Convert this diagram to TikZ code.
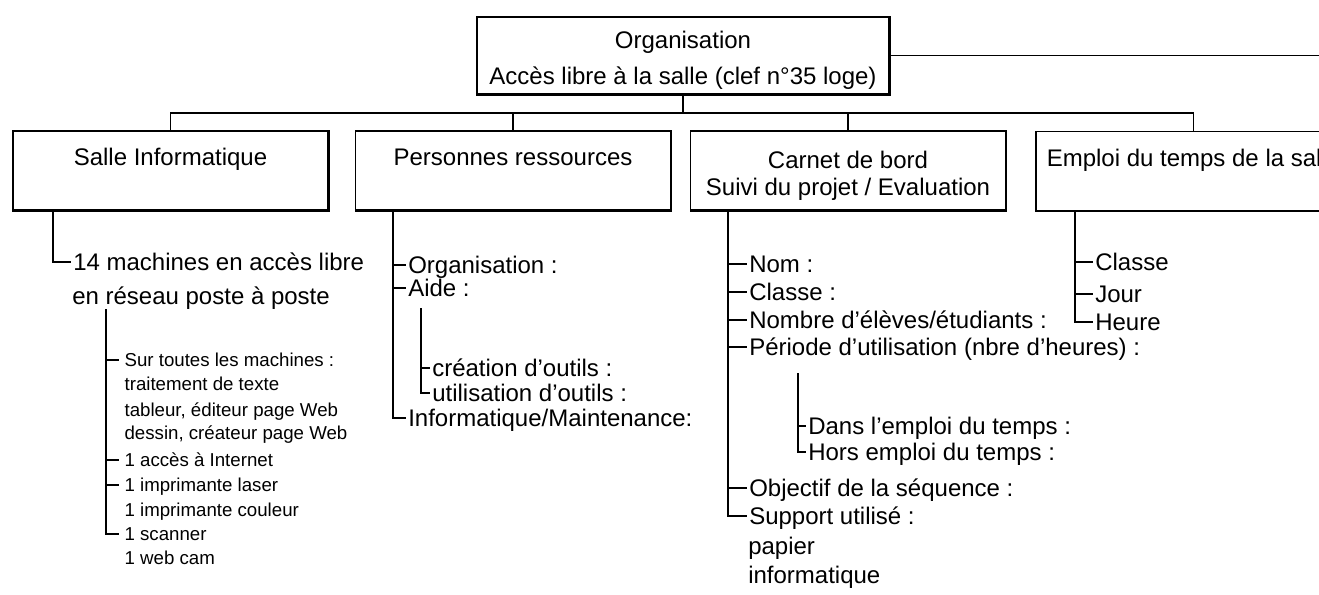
\documentclass[tikz,border=0pt]{standalone}
\usepackage{fontspec}
\setmainfont{Liberation Sans}
\usepackage{tikz}
\tikzset{
  bloc/.style = {draw, line width=1pt, align=center, inner sep=0pt,
    font=\fontsize{18}{20}\selectfont,
    minimum width=236.25pt, minimum height=59.25pt},
  entree/.style = {anchor=west, inner xsep=1.5pt, inner ysep=0pt,
    text height=13pt, text depth=0pt, font=\fontsize{18}{20}\selectfont},
  petit/.style = {entree, inner xsep=4pt, text height=10pt,
    font=\fontsize{14}{16}\selectfont},
  lien/.style = {line width=1.1pt},
  ombre/.style = {line width=1.8pt}
}

\begin{document}
\begin{tikzpicture}[x=0.75pt, y=-0.75pt]
    \useasboundingbox (0,0) rectangle (1319,594);
    \clip (0,0) rectangle (1319,594);
    \coordinate (bus) at (0,113);
    \coordinate (bord) at (1319,55.5);
    \node[bloc, minimum width=309pt, minimum height=57.75pt,
      font=\fontsize{18}{27}\selectfont] (orga) at (683,55.5)
      {\rule{0pt}{20.5pt}Organisation\\Accès libre à la salle (clef n°35 loge)};
    \node[bloc] (salle) at (170.5,170.5) {Salle Informatique\\\mbox{}};
    \node[bloc] (pers) at (513,170.5) {Personnes ressources\\\mbox{}};
    \node[bloc] (carnet) at (848,170.5)
      {\rule{0pt}{20.5pt}Carnet de bord\\Suivi du projet / Evaluation};
    \node[bloc] (emploi) at (1193.5,171) {Emploi du temps de la salle\\\mbox{}};
    \foreach \b in {orga,salle,pers,carnet,emploi}
      \draw[ombre] (\b.north east) |- (\b.south west);
    \draw[lien] (orga.east) -- (bord);
    \draw[lien] (orga.south) -- (orga.south |- bus);
    \draw[lien] (salle.north) |- (emploi.north |- bus) -- (emploi.north);
    \foreach \b in {pers,carnet}
      \draw[lien] (\b.north) -- (\b.north |- bus);

    \coordinate (trS) at (53,0);
    \coordinate (trSb) at (106,309);
    \node[entree] (machines) at (71,262) {14 machines en accès libre};
    \node[entree] (reseau) at (70,296) {en réseau poste à poste};
    \node[petit] (toutes) at (119,360) {Sur toutes les machines :};
    \node[petit] (texte) at (119,384) {traitement de texte};
    \node[petit] (tableur) at (119,410) {tableur, éditeur page Web};
    \node[petit] (dessin) at (119,433) {dessin, créateur page Web};
    \node[petit] (internet) at (119,460) {1 accès à Internet};
    \node[petit] (laser) at (119,485) {1 imprimante laser};
    \node[petit] (couleur) at (119,510) {1 imprimante couleur};
    \node[petit] (scanner) at (119,534) {1 scanner};
    \node[petit] (webcam) at (119,558) {1 web cam};
    \draw[lien] (salle.south -| trS) |- (machines.west);
    \draw[lien] (trSb) |- (scanner.west);
    \foreach \i in {toutes,internet,laser}
      \draw[lien] (\i.west -| trSb) -- (\i.west);

    \coordinate (trP) at (393,0);
    \coordinate (trPb) at (421,308);
    \node[entree] (porga) at (406,265) {Organisation :};
    \node[entree] (aide) at (406,288) {Aide :};
    \node[entree] (creation) at (430,368) {création d'outils :};
    \node[entree] (utilisation) at (430,393) {utilisation d'outils :};
    \node[entree] (maint) at (406,418) {Informatique/Maintenance:};
    \draw[lien] (pers.south -| trP) |- (maint.west);
    \foreach \i in {porga,aide}
      \draw[lien] (\i.west -| trP) -- (\i.west);
    \draw[lien] (trPb) |- (utilisation.west);
    \draw[lien] (creation.west -| trPb) -- (creation.west);

    \coordinate (trC) at (728,0);
    \coordinate (trCb) at (798,373);
    \node[entree] (nom) at (747,264) {Nom :};
    \node[entree] (classe) at (747,292) {Classe :};
    \node[entree] (nombre) at (747,320) {Nombre d'élèves/étudiants :};
    \node[entree] (periode) at (747,347) {Période d'utilisation (nbre d'heures) :};
    \node[entree] (dans) at (806,426) {Dans l'emploi du temps :};
    \node[entree] (hors) at (806,452) {Hors emploi du temps :};
    \node[entree] (objectif) at (747,488) {Objectif de la séquence :};
    \node[entree] (support) at (747,516) {Support utilisé :};
    \node[entree] (papier) at (746,546) {papier};
    \node[entree] (info) at (746,575) {informatique};
    \draw[lien] (carnet.south -| trC) |- (support.west);
    \foreach \i in {nom,classe,nombre,periode,objectif}
      \draw[lien] (\i.west -| trC) -- (\i.west);
    \draw[lien] (trCb) |- (hors.west);
    \draw[lien] (dans.west -| trCb) -- (dans.west);

    \coordinate (trE) at (1075,0);
    \node[entree] (eclasse) at (1093,262) {Classe};
    \node[entree] (jour) at (1093,294) {Jour};
    \node[entree] (heure) at (1093,322) {Heure};
    \draw[lien] (emploi.south -| trE) |- (heure.west);
    \foreach \i in {eclasse,jour}
      \draw[lien] (\i.west -| trE) -- (\i.west);
  \end{tikzpicture}
\end{document}
